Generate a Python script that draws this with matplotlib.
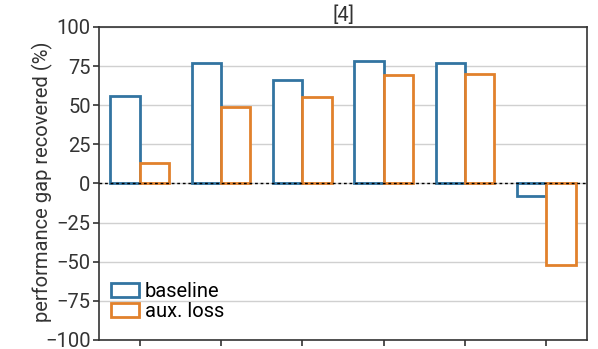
import numpy as np
import matplotlib.pyplot as plt

plt.rcParams['font.family'] = ['Roboto', 'DejaVu Sans']

groups = ["1", "2", "3", "4", "5", "6"]
baseline = [56, 77, 66, 78, 77, -8]
aux_loss = [13, 49, 55, 69, 70, -52]
yticks = [-100, -75, -50, -25, 0, 25, 50, 75, 100]

blue = "#3274a1"
orange = "#e1812c"
fs = 14.5

fig = plt.figure(figsize=(5.98, 3.49), dpi=100)
ax = fig.add_axes([0.1656, 0.0258, 0.816, 0.897])

x = np.arange(len(groups))
w = 0.36
ax.bar(x - w / 2, baseline, w, facecolor="white", edgecolor=blue, linewidth=2, label="baseline", zorder=3)
ax.bar(x + w / 2, aux_loss, w, facecolor="white", edgecolor=orange, linewidth=2, label="aux. loss", zorder=3)
ax.axhline(0, color="black", linestyle=(0, (2, 2)), linewidth=1, zorder=4)

ax.set_xlim(-0.5, 5.5)
ax.set_ylim(-100, 100)
ax.set_yticks(yticks)
ax.set_xticks(x)
ax.set_xticklabels([])
ax.grid(axis="y", color="#d0d0d0", linewidth=1, zorder=0)
ax.set_axisbelow(True)
for s in ax.spines.values():
    s.set_color("#333333")
    s.set_linewidth(1.2)
ax.tick_params(axis="both", labelsize=fs, colors="#333333", length=4, width=1.2, pad=2)
ax.set_ylabel("performance gap recovered (%)", fontsize=fs, color="#333333")
ax.yaxis.set_label_coords(-0.094, 0.505)
ax.set_title("[4]", fontsize=fs, color="#333333", pad=4)
ax.legend(loc="lower left", frameon=False, fontsize=fs, handlelength=1.4, handleheight=0.7,
          handletextpad=0.3, labelspacing=0.05, borderaxespad=0.3, bbox_to_anchor=(-0.005, 0.015))

fig.savefig("out.png", dpi=100)
